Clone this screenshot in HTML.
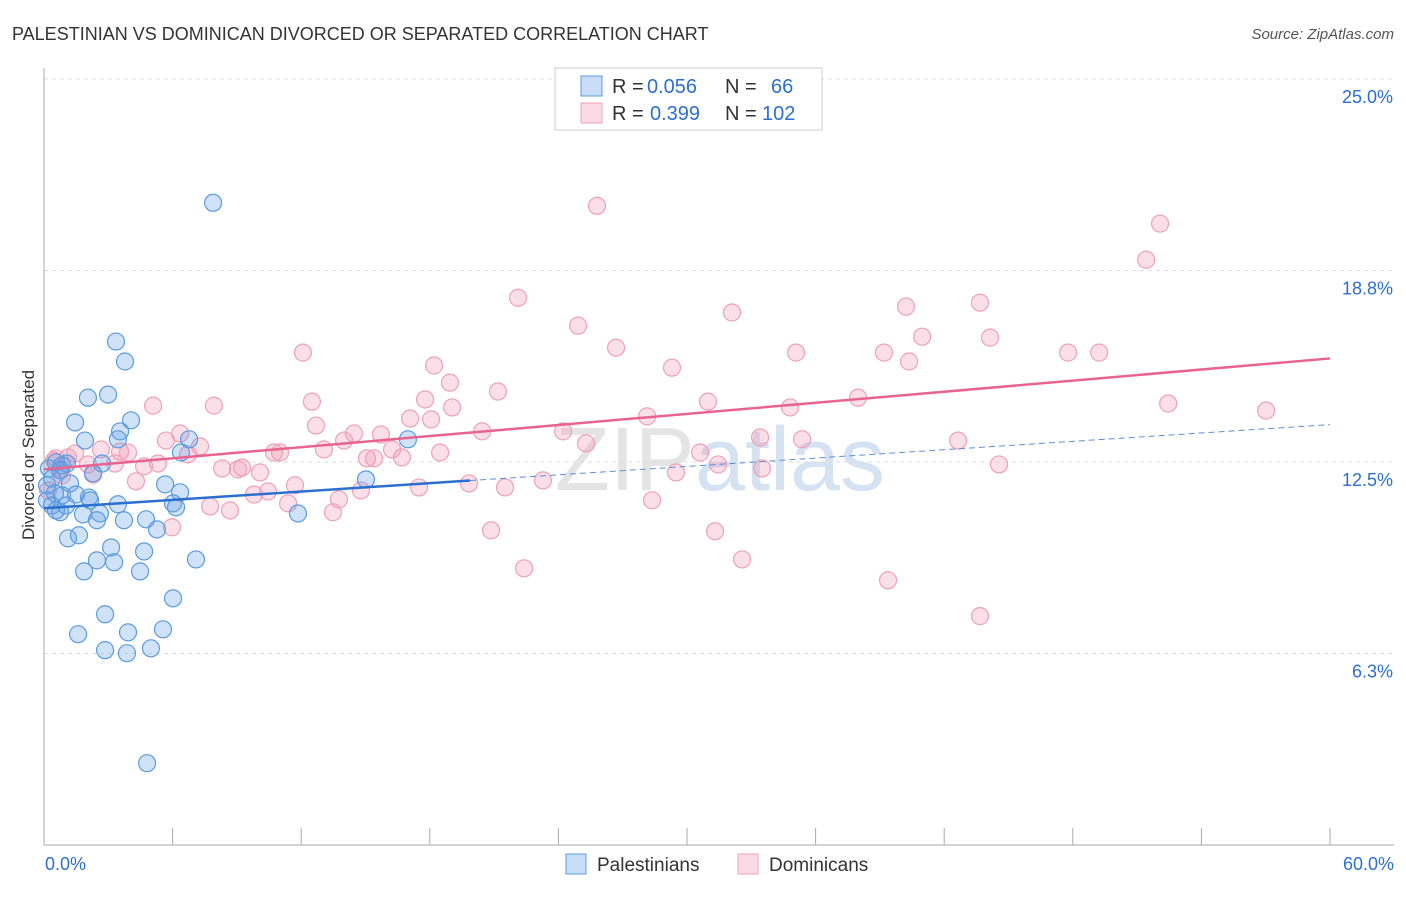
<!DOCTYPE html>
<html><head><meta charset="utf-8"><style>
body{margin:0;background:#fff;font-family:"Liberation Sans",sans-serif}
svg text{font-family:"Liberation Sans",sans-serif}
</style></head><body>
<svg id="chart" width="1406" height="892">
<text x="12" y="40" font-size="18" fill="#333">PALESTINIAN VS DOMINICAN DIVORCED OR SEPARATED CORRELATION CHART</text>
<text x="1394" y="39" font-size="15" fill="#555" text-anchor="end" font-style="italic">Source: ZipAtlas.com</text>
<text x="720" y="490" font-size="90" fill="#e4e4e4" text-anchor="middle" font-family="Liberation Serif">ZIP<tspan fill="#d4e2f2" font-family="Liberation Sans">atlas</tspan></text>
<g id="grid"></g><g id="axes"></g><g id="pts"></g><g id="lines"></g>
<text transform="translate(34,455) rotate(-90)" font-size="17" fill="#333" text-anchor="middle">Divorced or Separated</text>
<g>
<rect x="555" y="68" width="267" height="62" fill="#fff" stroke="#ccc"/>
<rect x="581" y="76" width="21" height="20" fill="rgba(100,160,230,0.35)" stroke="#5b9be0"/>
<rect x="581" y="103" width="21" height="20" fill="rgba(240,150,180,0.35)" stroke="#f0a0b8"/>
<text y="93" font-size="20" fill="#333"><tspan x="612">R =</tspan><tspan x="647" fill="#2b6fd0">0.056</tspan><tspan x="725">N =</tspan><tspan x="771" fill="#2b6fd0">66</tspan></text>
<text y="120" font-size="20" fill="#333"><tspan x="612">R =</tspan><tspan x="650" fill="#2b6fd0">0.399</tspan><tspan x="725">N =</tspan><tspan x="762" fill="#2b6fd0">102</tspan></text>
</g>
<g>
<rect x="566" y="854" width="20" height="20" fill="rgba(100,160,230,0.35)" stroke="#5b9be0"/>
<text x="597" y="871" font-size="19" fill="#333">Palestinians</text>
<rect x="738" y="854" width="20" height="20" fill="rgba(240,150,180,0.35)" stroke="#f0a0b8"/>
<text x="769" y="871" font-size="19" fill="#333">Dominicans</text>
</g>
</svg>
<script>
const yTicks=[6.25,12.5,18.75,25];
const yTickLabels=["6.3%","12.5%","18.8%","25.0%"];
const xTicks=[0,6,12,18,24,30,36,42,48,54,60];
const blueX=[7.89,3.36,3.78,2.05,2.99,1.45,4.06,3.55,3.45,1.91,6.77,16.98,6.39,2.71,0.56,1.07,0.75,2.29,15.02,5.65,1.21,6.35,0.51,0.84,1.49,2.1,0.14,3.45,6.02,0.37,2.61,0.75,1.82,6.16,11.85,2.47,3.73,4.76,5.27,1.63,1.12,3.13,4.67,3.27,7.09,1.87,4.48,2.47,6.02,2.85,1.59,3.92,5.55,2.85,3.87,4.99,4.81,0.37,0.14,0.56,1.03,2.15,0.23,0.84];
const blueY=[20.96,16.43,15.78,14.6,14.7,13.79,13.86,13.5,13.24,13.2,13.24,13.24,12.81,12.45,12.49,12.45,12.23,12.13,11.93,11.77,11.8,11.51,11.48,11.41,11.44,11.34,11.25,11.12,11.15,11.08,10.82,10.86,10.79,11.02,10.82,10.6,10.6,10.63,10.3,10.11,10.01,9.71,9.58,9.23,9.32,8.93,8.93,9.29,8.05,7.53,6.88,6.94,7.04,6.36,6.26,6.42,2.67,11.96,11.74,10.92,11.08,11.25,12.29,12.39];
const pinkX=[25.8,52.07,51.42,22.12,24.92,32.1,40.22,43.67,26.69,12.08,35.09,39.19,40.97,44.14,47.78,49.23,40.36,18.2,29.3,18.94,21.18,17.78,12.5,30.98,37.98,52.45,57.02,5.09,7.93,19.04,34.81,17.08,18.06,28.14,12.69,20.44,6.35,14.46,15.72,24.22,5.69,14,25.29,33.41,35.37,42.65,7.28,13.06,18.48,3.55,2.66,3.92,1.45,10.73,11.01,16.24,30.61,6.72,0.56,1.12,15.07,15.4,16.7,2.05,3.31,4.67,5.32,9.24,8.31,9.05,10.08,31.45,44.56,33.5,2.29,29.49,19.83,23.28,21.51,4.29,11.71,17.5,14.79,13.76,9.8,10.45,11.39,7.75,8.68,13.48,28.37,5.97,20.86,31.31,32.57,22.4,39.38,43.67,0.47,0.75,0.84,0.19];
const pinkY=[20.86,20.28,19.1,17.86,16.95,17.38,17.57,17.7,16.23,16.07,16.07,16.07,16.59,16.56,16.07,16.07,15.78,15.65,15.58,15.09,14.8,14.54,14.47,14.47,14.6,14.41,14.18,14.34,14.34,14.28,14.28,13.92,13.89,13.99,13.69,13.5,13.43,13.43,13.4,13.5,13.2,13.2,13.11,13.3,13.24,13.2,13.01,12.91,12.81,12.84,12.91,12.81,12.78,12.81,12.81,12.91,12.81,12.75,12.62,12.65,12.62,12.62,12.65,12.42,12.45,12.36,12.45,12.32,12.29,12.26,12.16,12.42,12.42,12.29,12.09,12.16,11.8,11.9,11.67,11.87,11.74,11.67,11.57,11.28,11.44,11.54,11.15,11.05,10.92,10.86,11.25,10.37,10.27,10.24,9.32,9.03,8.64,7.47,12.55,12.29,12.06,11.57];
const blueTrend=[10.99,13.72]; const blueSolidEnd=19.88;
const pinkTrend=[12.26,15.88];
const X0=44,X1=1330,Y0=845,Y25=79;
const sx=v=>X0+(v/60)*(X1-X0);
const sy=v=>Y0-(v/25)*(Y0-Y25);
const NS="http://www.w3.org/2000/svg";
function mk(parent,tag,attrs){const e=document.createElementNS(NS,tag);for(const k in attrs)e.setAttribute(k,attrs[k]);document.getElementById(parent).appendChild(e);return e;}
yTicks.forEach((t,i)=>{
 const l=mk('grid','line',{x1:X0,x2:1394,y1:sy(t),y2:sy(t),stroke:'#ddd','stroke-dasharray':'4,4'});
 
 
 const tx=mk('grid','text',{x:1393,y:sy(t)+24,'font-size':18,fill:'#2b6fd0','text-anchor':'end'});
 tx.textContent=yTickLabels[i];
 
 
});
const ya=mk('axes','line',{x1:X0,x2:X0,y1:68,y2:Y0,stroke:'#aaa'});


const xa=mk('axes','line',{x1:X0,x2:1394,y1:Y0,y2:Y0,stroke:'#aaa'});


xTicks.forEach(t=>{
 const l=mk('axes','line',{x1:sx(t),x2:sx(t),y1:828,y2:Y0,stroke:'#aaa'});
 
 
});
const xl0=mk('axes','text',{x:45,y:870,'font-size':18,fill:'#2b6fd0'});xl0.textContent='0.0%';


const xl1=mk('axes','text',{x:1394,y:870,'font-size':18,fill:'#2b6fd0','text-anchor':'end'});xl1.textContent='60.0%';


pinkX.forEach((v,i)=>{
 const c=mk('pts','circle',{cx:sx(v),cy:sy(pinkY[i]),r:8.5,fill:'rgba(240,150,180,0.3)',stroke:'#f0a0b8','stroke-width':1.2});
 
 
});
blueX.forEach((v,i)=>{
 const c=mk('pts','circle',{cx:sx(v),cy:sy(blueY[i]),r:8.5,fill:'rgba(100,160,230,0.3)',stroke:'#5b9be0','stroke-width':1.2});
 
 
});
const bt=v=>blueTrend[0]+(blueTrend[1]-blueTrend[0])*v/60;
const pt=v=>pinkTrend[0]+(pinkTrend[1]-pinkTrend[0])*v/60;
const pl=mk('lines','line',{x1:sx(0),y1:sy(pt(0)),x2:sx(60),y2:sy(pt(60)),stroke:'#e8648f','stroke-width':2.5});


const bl=mk('lines','line',{x1:sx(0),y1:sy(bt(0)),x2:sx(blueSolidEnd),y2:sy(bt(blueSolidEnd)),stroke:'#2b6fd0','stroke-width':2.5});


const bd=mk('lines','line',{x1:sx(blueSolidEnd),y1:sy(bt(blueSolidEnd)),x2:sx(60),y2:sy(bt(60)),stroke:'#5b8fd8','stroke-width':1,'stroke-dasharray':'6,4'});


const topLine=mk('grid','line',{x1:X0,x2:1394,y1:79,y2:79,stroke:'#ddd','stroke-dasharray':'4,4'});


</script>
</body></html>
